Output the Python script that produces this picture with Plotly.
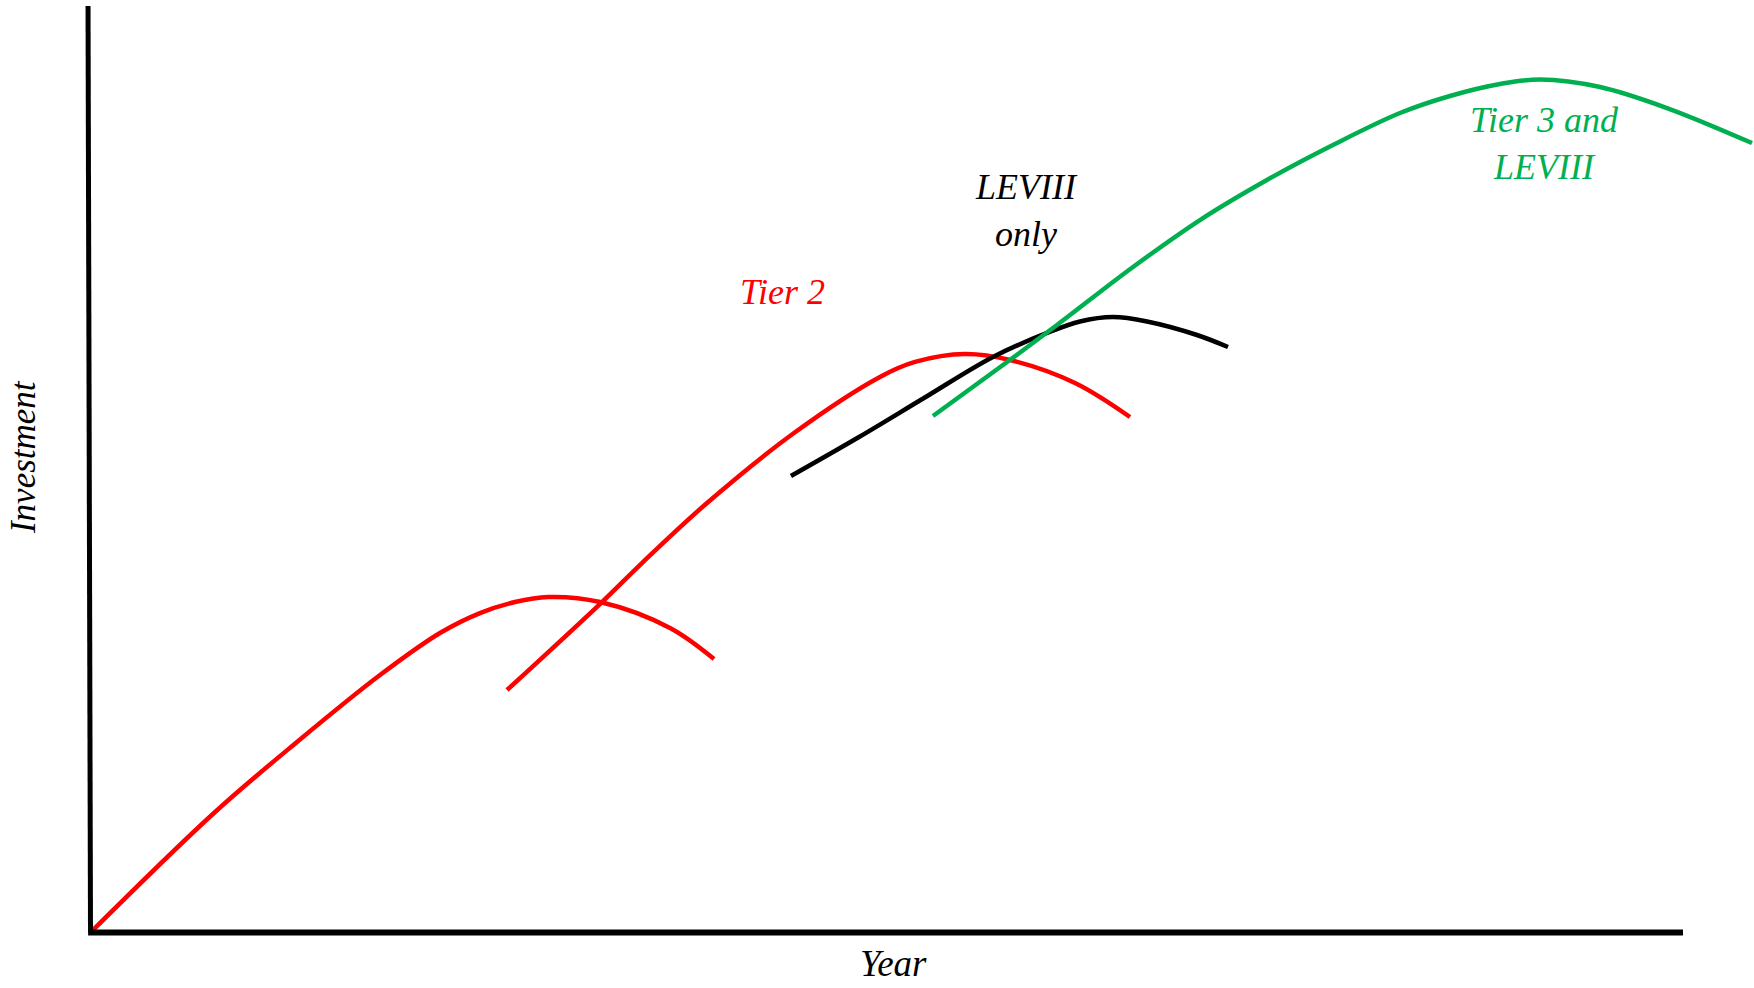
import plotly.graph_objects as go

# ---- data (x = year units, y = investment units) ----
red_a_x = [0.0, 1.551, 2.593, 3.636, 4.389, 4.892, 5.331, 5.746, 6.399, 7.278, 7.831]
red_a_y = [0.0, 12.90, 20.56, 27.79, 32.33, 34.48, 35.67, 36.21, 35.67, 32.87, 29.52]

red_b_x = [5.231, 6.411, 6.926, 7.743, 8.835, 9.915, 10.355, 10.983, 11.548, 12.364, 13.055]
red_b_y = [26.17, 35.56, 39.88, 46.36, 53.91, 59.96, 61.58, 62.44, 61.79, 59.31, 55.64]

black_x = [8.797, 9.652, 10.468, 11.334, 12.013, 12.427, 12.841, 13.269, 13.896, 14.286]
black_y = [49.27, 53.48, 57.69, 62.12, 64.71, 65.95, 66.43, 65.95, 64.49, 63.19]

green_x = [10.581, 11.460, 12.138, 13.093, 13.934, 14.775, 15.604, 16.446, 17.074,
           17.702, 18.204, 18.958, 19.799, 20.867]
green_y = [55.75, 61.25, 65.57, 71.83, 76.90, 81.22, 85.00, 88.45, 90.29,
           91.58, 92.07, 91.26, 88.99, 85.21]

axis_x_end = 20.0
axis_y_end = 100.0

labels = ["Tier 2", "LEVIII<br>only", "Tier 3 and<br>LEVIII"]
label_x = [8.685, 11.761, 18.267]
label_y = [69.13, 77.93, 85.16]
label_colors = ["#FF0000", "#000000", "#00B050"]

x_title = "Year"
y_title = "Investment"

RED = "#FF0000"
GREEN = "#00B050"
FONT = "Liberation Serif"

fig = go.Figure()
for xs, ys, col in [(red_a_x, red_a_y, RED), (red_b_x, red_b_y, RED),
                    (black_x, black_y, "#000000"), (green_x, green_y, GREEN)]:
    fig.add_trace(go.Scatter(x=xs, y=ys, mode="lines",
                             line=dict(color=col, width=4.5, shape="spline", smoothing=1.0),
                             hoverinfo="skip", showlegend=False))

# axis lines
fig.add_shape(type="line", x0=-0.031, y0=axis_y_end, x1=0, y1=0,
              xref="x", yref="y", line=dict(color="black", width=5))
fig.add_shape(type="line", x0=-0.03, y0=0, x1=axis_x_end, y1=0,
              xref="x", yref="y", line=dict(color="black", width=6))

for t, x, y, c in zip(labels, label_x, label_y, label_colors):
    fig.add_annotation(x=x, y=y, xref="x", yref="y", text=t, showarrow=False,
                       font=dict(family=FONT, size=36, color=c, style="italic"),
                       align="center", xanchor="center", yanchor="middle")

fig.add_annotation(x=10.08, y=-0.0147, xref="x", yref="paper", text=x_title, showarrow=False,
                   font=dict(family=FONT, size=37, color="black", style="italic"),
                   xanchor="center", yanchor="middle")
fig.add_annotation(x=-0.0279, y=51.32, xref="paper", yref="y", text=y_title, showarrow=False,
                   textangle=-90,
                   font=dict(family=FONT, size=35, color="black", style="italic"),
                   xanchor="center", yanchor="middle")

fig.update_layout(
    width=1754, height=988,
    margin=dict(l=70, r=0, t=0, b=38, pad=0, autoexpand=False),
    paper_bgcolor="white", plot_bgcolor="white",
    xaxis=dict(range=[-0.2575, 20.892], visible=False, showgrid=False, zeroline=False),
    yaxis=dict(range=[-1.889, 100.648], visible=False, showgrid=False, zeroline=False),
    showlegend=False,
)

fig.write_html("out.html", config={"displayModeBar": False},
               post_script="document.body.style.margin='0';document.body.style.overflow='hidden';")
